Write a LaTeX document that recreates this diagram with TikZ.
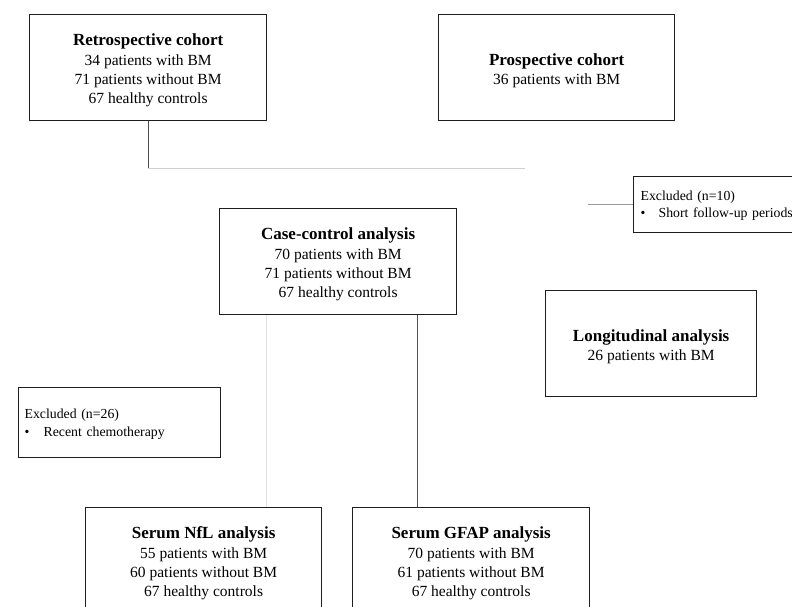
\documentclass[tikz,border=0pt]{standalone}
\usepackage{fontspec}
\setmainfont{Liberation Serif}
\definecolor{boxline}{HTML}{1E1E1E}
\definecolor{darkconn}{HTML}{505050}
\definecolor{midconn}{HTML}{9A9A9A}
\definecolor{lightconn}{HTML}{CFCFCF}
\definecolor{paleconn}{HTML}{E2E2E2}
\newcommand{\ttlfont}{\fontsize{17}{19.3}\selectfont\bfseries}
\newcommand{\boxttl}[1]{\rule{0pt}{17.5pt}{\ttlfont #1}}
\tikzset{
  mainbox/.style={draw=boxline, line width=1.3pt, rectangle, anchor=north west,
    align=center, inner sep=0pt, font=\fontsize{15.5}{19.3}\selectfont},
  exclbox/.style={draw=boxline, line width=1.3pt, rectangle, anchor=north west,
    align=left, inner sep=6pt, font=\fontsize{13.8}{17.5}\selectfont},
  conn/.style={line width=1pt}
}
\begin{document}
\begin{tikzpicture}[x=1pt,y=-1pt]
\useasboundingbox (0,0) rectangle (792,607);
\clip (0,0) rectangle (792,607);
\fill[white] (0,0) rectangle (792,607);

\node[mainbox, minimum width=237pt, minimum height=106pt] (retro) at (29,14)
  {\boxttl{Retrospective cohort}\\34 patients with BM\\71 patients without BM\\67 healthy controls};
\node[mainbox, minimum width=236pt, minimum height=106pt] (pros) at (438,14)
  {\boxttl{Prospective cohort}\\36 patients with BM};
\node[mainbox, minimum width=237pt, minimum height=106pt] (cc) at (219,208)
  {\boxttl{Case-control analysis}\\70 patients with BM\\71 patients without BM\\67 healthy controls};
\node[mainbox, minimum width=211pt, minimum height=106pt] (long) at (545,290)
  {\boxttl{Longitudinal analysis}\\26 patients with BM};
\node[mainbox, minimum width=236pt, minimum height=106pt] (nfl) at (85,507)
  {\boxttl{Serum NfL analysis}\\55 patients with BM\\60 patients without BM\\67 healthy controls};
\node[mainbox, minimum width=237pt, minimum height=106pt] (gfap) at (352,507)
  {\boxttl{Serum GFAP analysis}\\70 patients with BM\\61 patients without BM\\67 healthy controls};
\node[exclbox, inner xsep=7pt, minimum width=175pt, minimum height=56pt, text width=161pt] (ex10) at (633,176)
  {\rule{0pt}{12pt}Excluded (n=10)\\\makebox[18pt][l]{•}Short follow-up periods};
\node[exclbox, minimum width=202pt, minimum height=70pt, text width=190pt] (ex26) at (18,387)
  {\rule{0pt}{13pt}Excluded (n=26)\\\makebox[19pt][l]{•}Recent chemotherapy};

% connectors
\coordinate (hj) at (retro.south |- 0,168);
\coordinate (hend) at (525,168);
\coordinate (exstart) at (588,204);
\coordinate (gx) at (266,0);
\coordinate (dx) at (417,0);

\draw[conn, draw=darkconn] (retro.south) -- (hj);
\draw[conn, draw=lightconn] (hj) -- (hend);
\draw[conn, draw=midconn] (exstart) -- (exstart -| ex10.west);
\draw[conn, draw=paleconn] (cc.south -| gx) -- (nfl.north -| gx);
\draw[conn, draw=darkconn] (cc.south -| dx) -- (gfap.north -| dx);
\end{tikzpicture}
\end{document}
